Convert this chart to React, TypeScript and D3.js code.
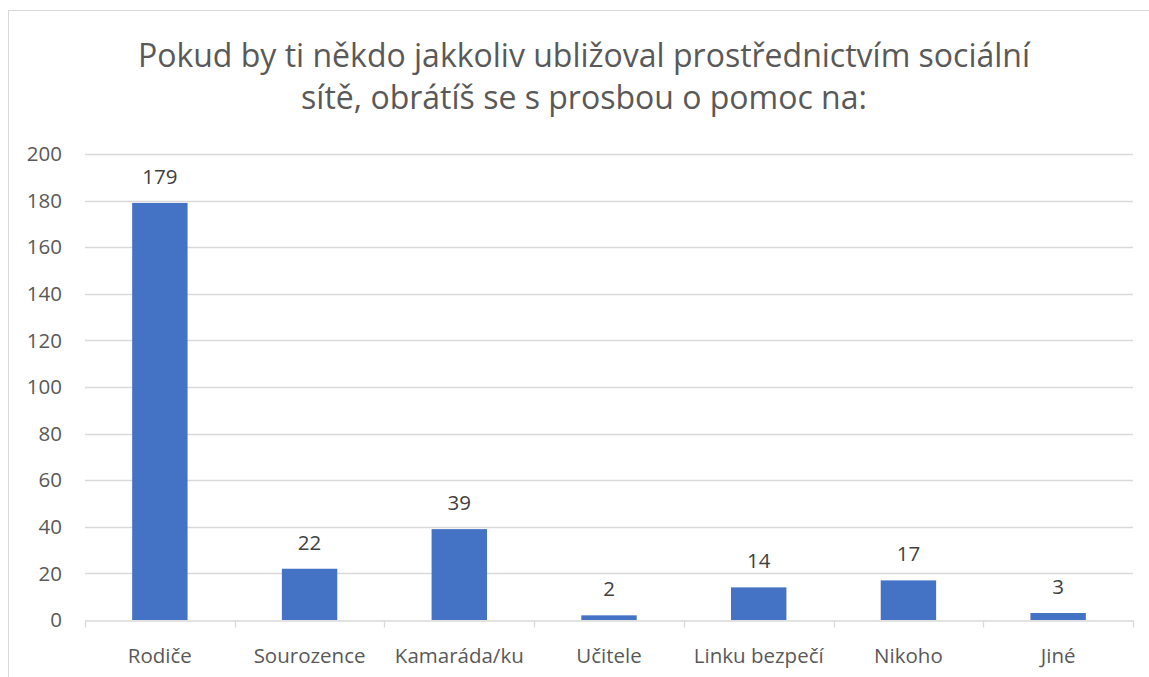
import React, { useEffect, useRef } from "react";
import * as d3 from "d3";

const categories = ["Rodiče", "Sourozence", "Kamaráda/ku", "Učitele", "Linku bezpečí", "Nikoho", "Jiné"];
const values = [179, 22, 39, 2, 14, 17, 3];
const yTicks = [0, 20, 40, 60, 80, 100, 120, 140, 160, 180, 200];
const titleLines = [
  "Pokud by ti někdo jakkoliv ubližoval prostřednictvím sociální",
  "sítě, obrátíš se s prosbou o pomoc na:",
];

const W = 1149;
const H = 677;
const FONT = "'Open Sans', 'Noto Sans', sans-serif";
const TEXT = "#595959";
const GRID = "#d9d9d9";

export default function App() {
  const ref = useRef<SVGSVGElement>(null);

  useEffect(() => {
    const svg = d3.select(ref.current);
    svg.selectAll("*").remove();

    const margin = { left: 85, right: 16, top: 154, bottom: 57 };

    // chart border
    svg.append("rect")
      .attr("x", 8.5)
      .attr("y", 10.5)
      .attr("width", W + 20)
      .attr("height", H + 20)
      .attr("fill", "#fff")
      .attr("stroke", GRID);

    // title
    svg.append("text")
      .attr("text-anchor", "middle")
      .attr("font-family", FONT)
      .attr("font-size", 32)
      .attr("fill", TEXT)
      .selectAll("tspan")
      .data(titleLines)
      .enter()
      .append("tspan")
      .attr("x", 584)
      .attr("y", (d, i) => 67 + i * 42)
      .text(d => d);

    const x = d3.scaleBand()
      .domain(categories)
      .range([margin.left, W - margin.right])
      .paddingInner(0.63)
      .paddingOuter(0.315);

    const bandX = d3.scaleBand()
      .domain(categories)
      .range([margin.left, W - margin.right]);

    const y = d3.scaleLinear()
      .domain([0, 200])
      .range([H - margin.bottom, margin.top]);

    // gridlines
    svg.append("g")
      .selectAll("line")
      .data(yTicks.filter(t => t > 0))
      .enter()
      .append("line")
      .attr("x1", margin.left)
      .attr("x2", W - margin.right)
      .attr("y1", d => Math.round(y(d)) + 0.5)
      .attr("y2", d => Math.round(y(d)) + 0.5)
      .attr("stroke", GRID)
      .attr("stroke-width", 1.3);

    // y labels
    svg.append("g")
      .selectAll("text")
      .data(yTicks)
      .enter()
      .append("text")
      .attr("x", 62)
      .attr("y", d => y(d))
      .attr("dy", "0.35em")
      .attr("text-anchor", "end")
      .attr("font-family", FONT)
      .attr("font-size", 20.5)
      .attr("fill", TEXT)
      .text(d => d);

    // bars
    svg.append("g")
      .selectAll("rect")
      .data(values)
      .enter()
      .append("rect")
      .attr("x", (d, i) => x(categories[i]) as number)
      .attr("y", d => y(d))
      .attr("width", x.bandwidth())
      .attr("height", d => y(0) - y(d))
      .attr("fill", "#4472c4");

    // value labels
    svg.append("g")
      .selectAll("text")
      .data(values)
      .enter()
      .append("text")
      .attr("x", (d, i) => (x(categories[i]) as number) + x.bandwidth() / 2)
      .attr("y", d => y(d) - 19)
      .attr("text-anchor", "middle")
      .attr("font-family", FONT)
      .attr("font-size", 20.5)
      .attr("fill", "#404040")
      .text(d => d);

    // x axis
    const xAxis = d3.axisBottom(bandX).tickSize(0).tickPadding(0);
    const gx = svg.append("g")
      .attr("transform", `translate(0, ${Math.round(y(0)) + 0.5})`)
      .call(xAxis);
    gx.select(".domain").attr("stroke", GRID).attr("stroke-width", 1.3);
    gx.selectAll(".tick text")
      .attr("y", 42)
      .attr("dy", 0)
      .attr("font-family", FONT)
      .attr("font-size", 20.5)
      .attr("fill", TEXT);

    // category boundary ticks
    const bounds = categories.map(c => bandX(c) as number).concat([W - margin.right]);
    gx.append("g")
      .selectAll("line")
      .data(bounds)
      .enter()
      .append("line")
      .attr("x1", d => Math.round(d) + 0.5)
      .attr("x2", d => Math.round(d) + 0.5)
      .attr("y1", 0)
      .attr("y2", 7)
      .attr("stroke", GRID)
      .attr("stroke-width", 1.3);
  }, []);

  return (
    <svg
      ref={ref}
      width={W}
      height={H}
      style={{ position: "absolute", left: 0, top: 0, background: "#fff" }}
    />
  );
}
